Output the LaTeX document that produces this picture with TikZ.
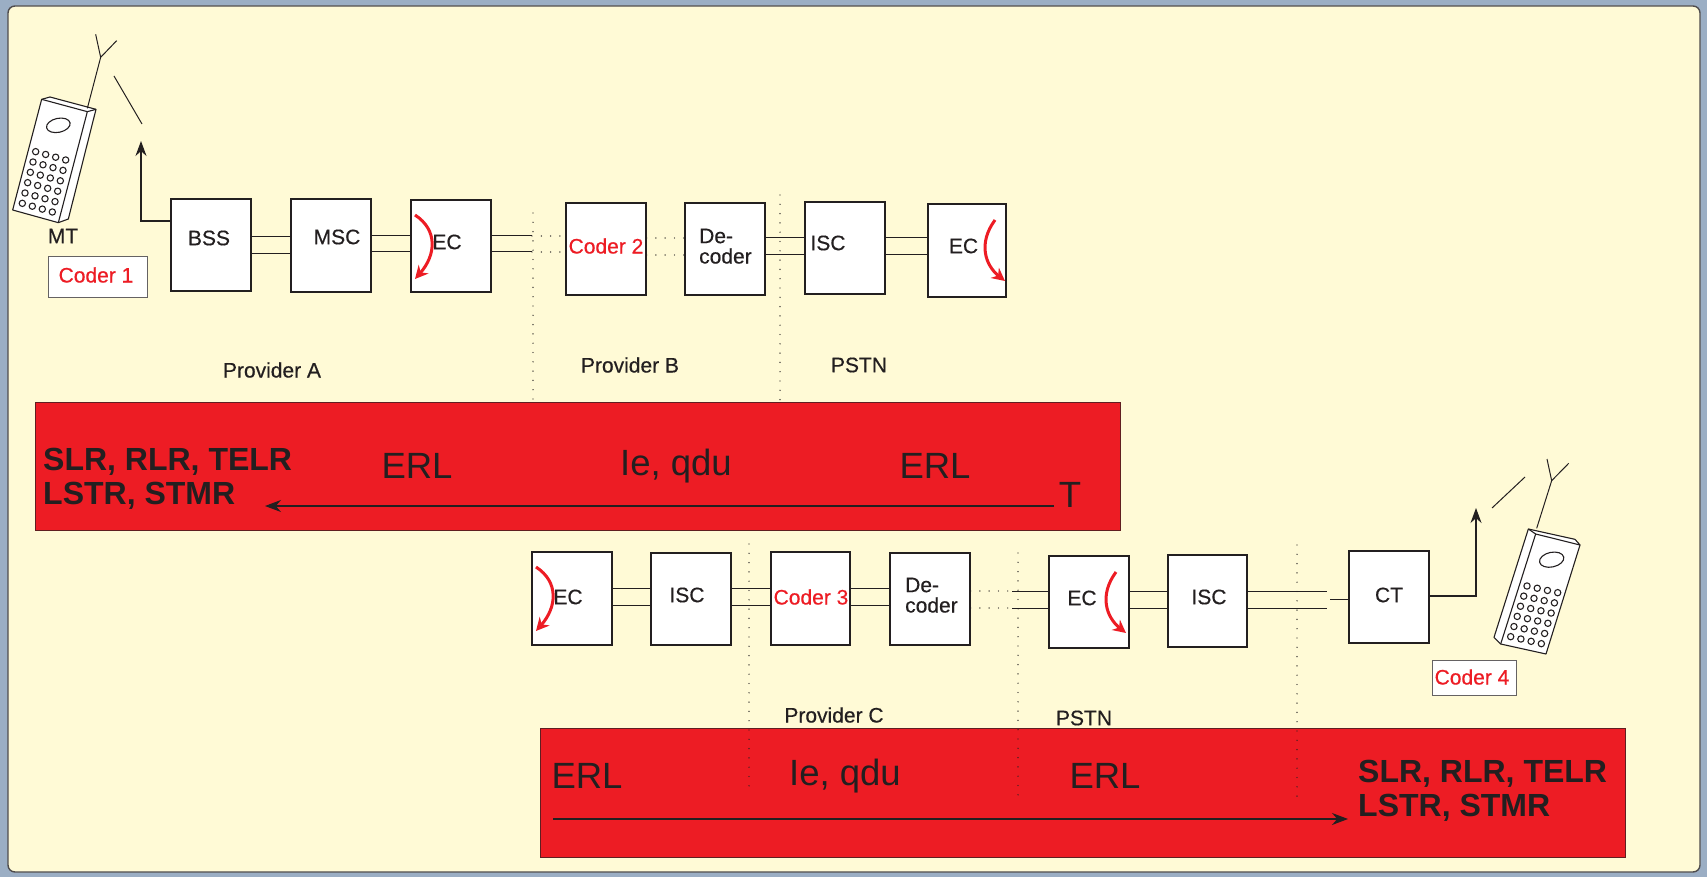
\documentclass[tikz,border=0pt]{standalone}
\usepackage{fontspec}
\setmainfont{Liberation Sans}
\usetikzlibrary{arrows.meta}
\definecolor{frameblue}{HTML}{9BAEC4}
\definecolor{cream}{HTML}{FFFAD6}
\definecolor{redfill}{HTML}{ED1C24}
\definecolor{ink}{HTML}{231F20}
\newcommand{\mylabelfont}{\fontsize{21}{21}\selectfont\addfontfeature{FakeBold=0.4}}
\newcommand{\mybigfont}{\fontsize{36.5}{36.5}\selectfont}
\newcommand{\myboldfont}{\fontsize{32}{34}\selectfont\bfseries}
\tikzset{
  x=1pt,y=-1pt,
  blockbox/.style={draw=ink,line width=1.1pt,fill=white,inner sep=0pt},
  wire/.style={draw=ink,line width=1pt},
  dotwire/.style={draw=ink,line width=1.4pt,line cap=round,dash pattern=on 0pt off 9.3pt},
  arrowline/.style={draw=ink,line width=1.1pt,-{Stealth[length=15pt,width=11pt]}},
  echo/.style={draw=redfill,line width=3pt,-{Stealth[length=13pt,width=13pt]}},
  lab/.style={text=ink,font=\mylabelfont,inner sep=0pt},
  redlab/.style={text=redfill,font=\mylabelfont,inner sep=0pt},
  biglab/.style={text=ink,font=\mybigfont,inner sep=0pt},
  boldlab/.style={text=ink,font=\myboldfont,inner sep=0pt,align=left,anchor=west},
  tagbox/.style={draw=ink!70,line width=1pt,fill=white,inner sep=0pt},
  panel/.style={draw=ink!70!redfill,line width=1pt,fill=redfill},
  phone/.style={draw=ink,line width=1.1pt,fill=white,line join=round},
  ant/.style={draw=ink,line width=1pt}
}
\newcommand{\myblock}[6]{% name, x0, y0, x1, y1
  \path[blockbox] (#2,#3) rectangle (#4,#5);
  \coordinate (#1) at ({(#2+#4)/2},{(#3+#5)/2});
}
\begin{document}
\begin{tikzpicture}
\useasboundingbox (0,0) rectangle (1707,877);
\fill[frameblue] (0,0) rectangle (1707,877);
\path[fill=cream,draw=ink!80,line width=1.4pt,rounded corners=7pt] (8,6) -- (1700,6) -- (1700,872) -- (8,872) -- cycle;

% red panels
\path[panel] (35,402) rectangle (1120,530);
\path[panel] (540,728) rectangle (1625,857);

% blocks as named nodes
\newcommand{\blk}[5]{\node[blockbox,minimum width=#4-#2,minimum height=#5-#3] (#1) at ({(#2+#4)/2},{(#3+#5)/2}) {};}
\blk{bss}{171}{199}{251}{291}
\blk{msc}{291}{199}{371}{292}
\blk{eca}{411}{200}{491}{292}
\blk{cod2}{566}{203}{646}{295}
\blk{deca}{685}{203}{765}{295}
\blk{isca}{805}{202}{885}{294}
\blk{ecb}{928}{204}{1006}{297}
\blk{ecc}{532}{552}{612}{645}
\blk{iscb}{651}{553}{731}{645}
\blk{cod3}{771}{552}{850}{645}
\blk{decb}{890}{553}{970}{645}
\blk{ecd}{1049}{556}{1129}{648}
\blk{iscc}{1168}{555}{1247}{647}
\blk{ct}{1349}{551}{1429}{643}
\node[tagbox,minimum width=99pt,minimum height=40pt] (cod1) at (97.5,277) {};
\node[tagbox,minimum width=84pt,minimum height=35pt] (cod4) at (1474,677.5) {};

% connectors row 1
\coordinate (e1) at (532,236); \coordinate (e2) at (532,252);
\coordinate (f1) at (1327,591); \coordinate (f2) at (1327,608);
\coordinate (g1) at (1012,591); \coordinate (g2) at (1012,608);
\draw[wire] (bss.east |- 0,237) -- (msc.west |- 0,237);
\draw[wire] (bss.east |- 0,254) -- (msc.west |- 0,254);
\draw[wire] (msc.east |- 0,236) -- (eca.west |- 0,236);
\draw[wire] (msc.east |- 0,252) -- (eca.west |- 0,252);
\draw[wire] (eca.east |- e1) -- (e1);
\draw[wire] (eca.east |- e2) -- (e2);
\draw[dotwire] (e1) -- (cod2.west |- e1);
\draw[dotwire] (e2) -- (cod2.west |- e2);
\draw[dotwire] (cod2.east |- 0,238) -- (deca.west |- 0,238);
\draw[dotwire] (cod2.east |- 0,255) -- (deca.west |- 0,255);
\draw[wire] (deca.east |- 0,238) -- (isca.west |- 0,238);
\draw[wire] (deca.east |- 0,255) -- (isca.west |- 0,255);
\draw[wire] (isca.east |- 0,238) -- (ecb.west |- 0,238);
\draw[wire] (isca.east |- 0,255) -- (ecb.west |- 0,255);
% connectors row 2
\draw[wire] (ecc.east |- 0,588) -- (iscb.west |- 0,588);
\draw[wire] (ecc.east |- 0,605) -- (iscb.west |- 0,605);
\draw[wire] (iscb.east |- 0,588) -- (cod3.west |- 0,588);
\draw[wire] (iscb.east |- 0,605) -- (cod3.west |- 0,605);
\draw[wire] (cod3.east |- 0,588) -- (decb.west |- 0,588);
\draw[wire] (cod3.east |- 0,605) -- (decb.west |- 0,605);
\draw[dotwire] (decb.east |- g1) -- (g1);
\draw[dotwire] (decb.east |- g2) -- (g2);
\draw[wire] (g1) -- (ecd.west |- g1);
\draw[wire] (g2) -- (ecd.west |- g2);
\draw[wire] (ecd.east |- 0,591) -- (iscc.west |- 0,591);
\draw[wire] (ecd.east |- 0,608) -- (iscc.west |- 0,608);
\draw[wire] (iscc.east |- f1) -- (f1);
\draw[wire] (iscc.east |- f2) -- (f2);
\coordinate (ctstub) at (1330,599);
\draw[wire] (ctstub) -- (ct.west |- ctstub);
% radio arrows
\coordinate (tipa) at (141,141);
\coordinate (tipb) at (1476,508);
\draw[arrowline] (bss.west |- 0,221) -| (tipa);
\draw[arrowline] (ct.east |- 0,596) -| (tipb);
\coordinate (wa1) at (114,76); \coordinate (wa2) at (142,124);
\coordinate (wb1) at (1525,477); \coordinate (wb2) at (1492,508);
\draw[ant] (wa1) -- (wa2);
\draw[ant] (wb1) -- (wb2);

% vertical dotted separators
\coordinate (va1) at (533,213); \coordinate (va2) at (533,401);
\coordinate (vb1) at (780,195); \coordinate (vb2) at (780,401);
\coordinate (vc1) at (749,544); \coordinate (vc2) at (749,787);
\coordinate (vd1) at (1018,553); \coordinate (vd2) at (1018,803);
\coordinate (ve1) at (1297,545); \coordinate (ve2) at (1297,797);
\foreach \p in {a,b,c,d,e} {\draw[dotwire] (v\p1) -- (v\p2);}

% echo arrows
\coordinate (ea1) at (415,215); \coordinate (ea2) at (415,279);
\coordinate (eb1) at (995,220); \coordinate (eb2) at (1005,281);
\coordinate (ec1) at (536,567); \coordinate (ec2) at (536,631);
\coordinate (ed1) at (1116,572); \coordinate (ed2) at (1126,633);
\draw[echo] (ea1) .. controls (438,230) and (436,255) .. (ea2);
\draw[echo] (ec1) .. controls (559,582) and (557,607) .. (ec2);
\draw[echo] (eb1) .. controls (978,243) and (985,265) .. (eb2);
\draw[echo] (ed1) .. controls (1099,595) and (1106,617) .. (ed2);

% labels
\node[lab] (tbss) at (209,238) {BSS};
\node[lab] (tmsc) at (337,237) {MSC};
\node[lab] (teca) at (447,242) {EC};
\node[redlab] (tc2) at (606,246) {Coder 2};
\node[lab,anchor=west] (tde1) at (699,236) {De-};
\node[lab,anchor=west] (tde2) at (699,256) {coder};
\node[lab] (tisca) at (828,243) {ISC};
\node[lab] (tecb) at (963.5,246) {EC};
\node[lab] (tmt) at (63,236) {MT};
\node[redlab] (tc1) at (96,275) {Coder 1};
\node[redlab] (tc4) at (1472,677) {Coder 4};
\node[lab] (tpa) at (272,370) {Provider A};
\node[lab] (tpb) at (630,365) {Provider B};
\node[lab] (tp1) at (859,365) {PSTN};
\node[lab] (tecc) at (568,597) {EC};
\node[lab] (tiscb) at (687,595) {ISC};
\node[redlab] (tc3) at (811,597) {Coder 3};
\node[lab,anchor=west] (tde3) at (905,585) {De-};
\node[lab,anchor=west] (tde4) at (905,605) {coder};
\node[lab] (tecd) at (1082,598) {EC};
\node[lab] (tiscc) at (1209,597) {ISC};
\node[lab] (tct) at (1389,595) {CT};
\node[lab] (tpc) at (834,715) {Provider C};
\node[lab] (tp2) at (1084,718) {PSTN};

\node[boldlab] (sa) at (43,479) {SLR, RLR, TELR\\LSTR, STMR};
\node[biglab] (e1t) at (417,466) {ERL};
\node[biglab] (i1t) at (676,466) {Ie, qdu};
\node[biglab] (e2t) at (935,466) {ERL};
\node[biglab] (tt) at (1070,495) {T};
\draw[draw=ink,line width=1.1pt,-{Stealth[length=16pt,width=12pt]}] (1054,506) -- (265,506);
\node[biglab] (e3t) at (587,776) {ERL};
\node[biglab] (i2t) at (845,776) {Ie, qdu};
\node[biglab] (e4t) at (1105,776) {ERL};
\node[boldlab] (sb) at (1358,791) {SLR, RLR, TELR\\LSTR, STMR};
\draw[draw=ink,line width=1.1pt,-{Stealth[length=16pt,width=12pt]}] (553,819) -- (1348,819);

% phone 1
\begin{scope}[scale=1/3]
\path[phone] (125,298) -- (150,291) -- (288,328) -- (205,657) -- (175,668) -- (38,630) -- cycle;
\draw[phone,fill=none] (125,298) -- (262,335) -- (175,668);
\draw[phone,fill=none] (262,335) -- (288,328);
\draw[ant] (262,325) -- (302,172) (287,103) -- (302,172) -- (350,122);
\draw[phone,rotate around={12:(175,376)}] (175,376) ellipse [x radius=36,y radius=21];
\foreach \r in {0,...,5}{\foreach \c in {0,...,3}{
  \pgfmathsetmacro{\u}{\c/3}\pgfmathsetmacro{\v}{\r/5}
  \pgfmathsetmacro{\px}{(1-\v)*((1-\u)*107+\u*197)+\v*((1-\u)*67+\u*157)}
  \pgfmathsetmacro{\py}{(1-\v)*((1-\u)*455+\u*480)+\v*((1-\u)*610+\u*636)}
  \draw[phone] (\px,\py) circle [radius=9.5];
}}
\end{scope}
% phone 2
\begin{scope}[shift={(1250,440)},scale=1/3]
\path[phone] (835,267) -- (975,298) -- (990,315) -- (888,642) -- (752,612) -- (732,592) -- cycle;
\draw[phone,fill=none] (835,267) -- (857,282) -- (990,315);
\draw[phone,fill=none] (857,282) -- (752,612);
\draw[ant] (860,265) -- (905,122) (891,57) -- (905,122) -- (956,70);
\draw[phone,rotate around={12:(905,359)}] (905,359) ellipse [x radius=37,y radius=22];
\foreach \r in {0,...,5}{\foreach \c in {0,...,3}{
  \pgfmathsetmacro{\u}{\c/3}\pgfmathsetmacro{\v}{\r/5}
  \pgfmathsetmacro{\px}{(1-\v)*((1-\u)*831+\u*923)+\v*((1-\u)*782+\u*874)}
  \pgfmathsetmacro{\py}{(1-\v)*((1-\u)*438+\u*458)+\v*((1-\u)*590+\u*611)}
  \draw[phone] (\px,\py) circle [radius=9.5];
}}
\end{scope}
\end{tikzpicture}
\end{document}
